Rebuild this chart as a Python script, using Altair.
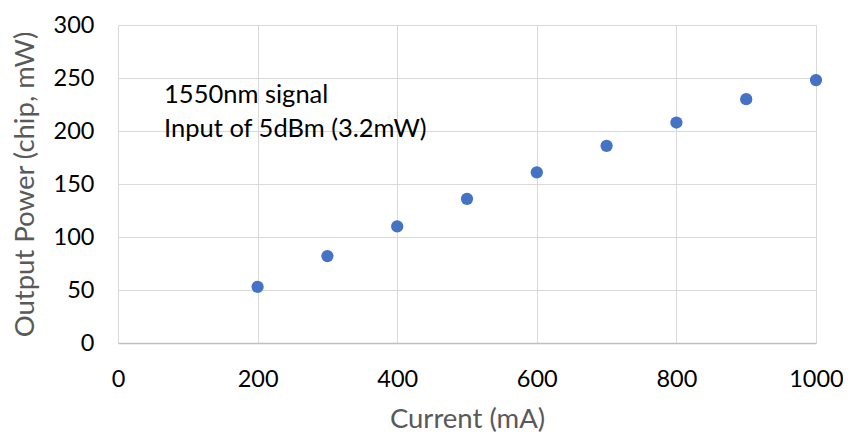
import altair as alt
import pandas as pd

current = [200, 300, 400, 500, 600, 700, 800, 900, 1000]
power = [53, 82, 110, 136, 161, 186, 208, 230, 248]

notes = ["1550nm signal", "Input of 5dBm (3.2mW)"]
note_x = [66, 66]
note_y = [234, 202]

df = pd.DataFrame({"current": current, "power": power})
ndf = pd.DataFrame({"text": notes, "x": note_x, "y": note_y})

FONT = "Lato"

x = alt.X("current:Q", title="Current (mA)",
          scale=alt.Scale(domain=[0, 1000], nice=False),
          axis=alt.Axis(values=[0, 200, 400, 600, 800, 1000], format="d",
                        labelFlush=False, labelPadding=24, titlePadding=15))
y = alt.Y("power:Q", title="Output Power (chip, mW)",
          scale=alt.Scale(domain=[0, 300], nice=False),
          axis=alt.Axis(values=[0, 50, 100, 150, 200, 250, 300], format="d",
                        labelFlush=False, labelPadding=24, titlePadding=14))

pts = alt.Chart(df).mark_circle(size=150, color="#4472C4", opacity=1).encode(x=x, y=y)

txt = alt.Chart(ndf).mark_text(align="left", baseline="middle", font=FONT,
                               fontSize=25.5, color="#000000").encode(
    x=alt.X("x:Q"), y=alt.Y("y:Q"), text="text:N")

chart = (pts + txt).properties(
    width=698, height=318,
    autosize=alt.AutoSizeParams(type="none"),
    padding={"left": 110, "top": 17, "right": 27, "bottom": 91},
).configure_view(stroke=None).configure_axis(
    grid=True, gridColor="#d9d9d9", gridWidth=1,
    domain=False, ticks=False,
    labelFont=FONT, labelFontSize=23.5, labelColor="#000000",
    titleFont=FONT, titleFontSize=27.5, titleColor="#595959", titleFontWeight="normal",
).configure_axisX(domain=True, domainColor="#bfbfbf", domainWidth=1.5)

chart.save("out.html", embed_options={"renderer": "svg", "actions": False})
